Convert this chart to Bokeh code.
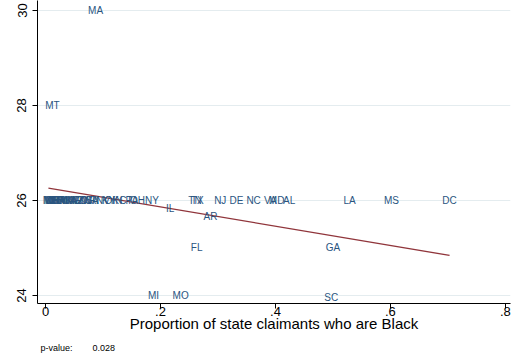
import numpy as np
from bokeh.plotting import figure
from bokeh.models import ColumnDataSource, FixedTicker, Range1d, Title
from bokeh.embed import file_html
from bokeh.resources import INLINE
from bokeh.core.properties import value

# State abbreviations, share of claimants who are Black, and outcome value
states = [
    "ID", "ME", "VT", "NH", "UT", "WY", "ND", "SD", "OR", "NM", "HI", "AK",
    "WA", "IA", "WV", "NE", "AZ", "CO", "MN", "KS", "WI", "CA", "RI", "NV",
    "KY", "OK", "IN", "CT", "PA", "OH", "NY",
    "TN", "TX", "NJ", "DE", "NC", "VA", "MD", "AL", "LA", "MS", "DC",
    "IL", "AR", "FL", "GA", "MI", "MO", "SC", "MA", "MT",
]
black_share = [
    0.005, 0.008, 0.010, 0.012, 0.015, 0.012, 0.018, 0.020, 0.022, 0.025, 0.030, 0.035,
    0.040, 0.042, 0.045, 0.050, 0.055, 0.060, 0.065, 0.070, 0.075, 0.080, 0.085, 0.100,
    0.110, 0.115, 0.125, 0.140, 0.150, 0.160, 0.185,
    0.260, 0.264, 0.304, 0.332, 0.362, 0.391, 0.402, 0.424, 0.529, 0.602, 0.703,
    0.217, 0.287, 0.263, 0.500, 0.188, 0.235, 0.497, 0.087, 0.012,
]
outcome = [
    26, 26, 26, 26, 26, 26, 26, 26, 26, 26, 26, 26,
    26, 26, 26, 26, 26, 26, 26, 26, 26, 26, 26, 26,
    26, 26, 26, 26, 26, 26, 26,
    26, 26, 26, 26, 26, 26, 26, 26, 26, 26, 26,
    25.83, 25.67, 25.0, 25.0, 24.0, 24.0, 23.95, 30.0, 28.0,
]

# Linear fit shown across the observed range
fit_intercept = 26.27
fit_slope = -2.03
p_value = "0.028"

x_ticks = [0, 0.2, 0.4, 0.6, 0.8]
x_tick_labels = ["0", ".2", ".4", ".6", ".8"]
y_ticks = [24, 26, 28, 30]

FONT = "Liberation Sans"
MAROON = "#90353b"

src = ColumnDataSource(dict(x=black_share, y=outcome, state=states))

p = figure(
    width=513, height=364, output_backend="svg", toolbar_location=None,
    x_range=Range1d(-0.014, 0.809), y_range=Range1d(23.83, 30.21),
    min_border_left=37, min_border_right=3, min_border_top=0, min_border_bottom=61,
    background_fill_color="white", border_fill_color="white",
)
p.outline_line_color = None

# Fitted line from min to max of x
fx = np.array([min(black_share), max(black_share)])
p.line(fx, fit_intercept + fit_slope * fx, line_color=MAROON, line_width=1.3)

# State labels used as markers
p.text(x="x", y="y", text="state", source=src, text_align="center",
       text_baseline="middle", text_font=value(FONT), text_font_size="10px",
       text_color="#2a557f")

# Axes
p.xaxis.ticker = FixedTicker(ticks=x_ticks)
p.xaxis.major_label_overrides = {t: l for t, l in zip(x_ticks, x_tick_labels)}
p.xaxis.axis_label = "Proportion of state claimants who are Black"
p.xaxis.axis_label_text_font = FONT
p.xaxis.axis_label_text_font_size = "15px"
p.xaxis.axis_label_text_font_style = "normal"
p.xaxis.axis_label_text_color = "black"
p.xaxis.axis_label_standoff = -4
p.xaxis.major_label_standoff = -2

p.yaxis.ticker = FixedTicker(ticks=y_ticks)
p.yaxis.major_label_orientation = "vertical"
p.yaxis.major_label_standoff = 6

for ax in (p.xaxis, p.yaxis):
    ax.minor_tick_line_color = None
    ax.major_tick_out = 5
    ax.major_tick_in = 0
    ax.axis_line_color = "black"
    ax.major_tick_line_color = "black"
    ax.major_label_text_font = FONT
    ax.major_label_text_font_size = "13px"
    ax.major_label_text_color = "black"

p.xgrid.visible = False
p.ygrid.ticker = FixedTicker(ticks=y_ticks)
p.ygrid.grid_line_color = "#e4ecef"
p.ygrid.grid_line_width = 1

# Note under the axis title
nbsp = "\u00a0"
note = Title(text="p-value:" + nbsp * 8 + p_value, align="left", offset=3,
             text_font=FONT, text_font_size="9px", text_font_style="normal",
             text_color="black", standoff=12)
p.add_layout(note, "below")

open("out.html", "w").write(file_html(p, INLINE))
